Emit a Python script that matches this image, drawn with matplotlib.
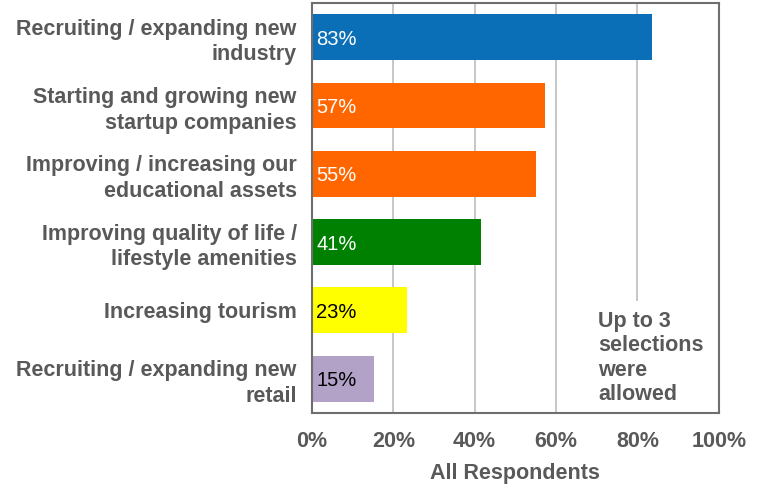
import matplotlib
matplotlib.use("Agg")
import matplotlib.pyplot as plt
from matplotlib.ticker import PercentFormatter

# Data
categories = ["Recruiting / expanding new\nindustry",
              "Starting and growing new\nstartup companies",
              "Improving / increasing our\neducational assets",
              "Improving quality of life /\nlifestyle amenities",
              "Increasing tourism",
              "Recruiting / expanding new\nretail"]
values = [83.5, 57.2, 55.0, 41.5, 23.3, 15.2]
labels = ["83%", "57%", "55%", "41%", "23%", "15%"]
colors = ["#0b6fb8", "#ff6600", "#ff6600", "#008000", "#ffff00", "#b3a2c7"]
label_colors = ["white", "white", "white", "white", "black", "black"]

plt.rcParams['font.family'] = ['Liberation Sans', 'DejaVu Sans']
gray = "#595959"

fig = plt.figure(figsize=(7.59, 4.84), dpi=100)
ax = fig.add_axes([0.411, 0.147, 0.536, 0.847])

y = list(range(len(categories)))
ax.barh(y, values, height=0.67, color=colors, zorder=2)
ax.set_ylim(len(categories) - 0.5, -0.5)
ax.set_xlim(0, 100)

for yi, v, lab, c in zip(y, values, labels, label_colors):
    ax.text(1.0, yi + 0.03, lab, va="center", ha="left", color=c, fontsize=14.5, zorder=3)

ax.set_xticks([0, 20, 40, 60, 80, 100])
ax.xaxis.set_major_formatter(PercentFormatter(decimals=0))
ax.set_yticks(y)
ax.set_yticklabels(categories, fontsize=15.5, fontweight="bold", color=gray,
                   ha="right", multialignment="right", linespacing=1.3)
ax.tick_params(axis="x", labelsize=15.5, labelcolor=gray, length=0, pad=13)
ax.tick_params(axis="y", length=0, pad=11)
for lbl in ax.get_xticklabels():
    lbl.set_fontweight("bold")

ax.grid(axis="x", color="#bdbdbd", linewidth=1.2, zorder=0)
ax.set_axisbelow(True)
for s in ax.spines.values():
    s.set_color("#6e6e6e")
    s.set_linewidth(1.5)
    s.set_zorder(6)

ax.set_xlabel("All Respondents", fontsize=15.5, fontweight="bold", color=gray, labelpad=8)

ax.text(70.3, 4.7, "Up to 3\nselections\nwere\nallowed", fontsize=15.5, fontweight="bold",
        color=gray, ha="left", va="center", linespacing=1.22,
        bbox=dict(facecolor="white", edgecolor="none", pad=7), zorder=4)

fig.savefig("out.png", dpi=100)
